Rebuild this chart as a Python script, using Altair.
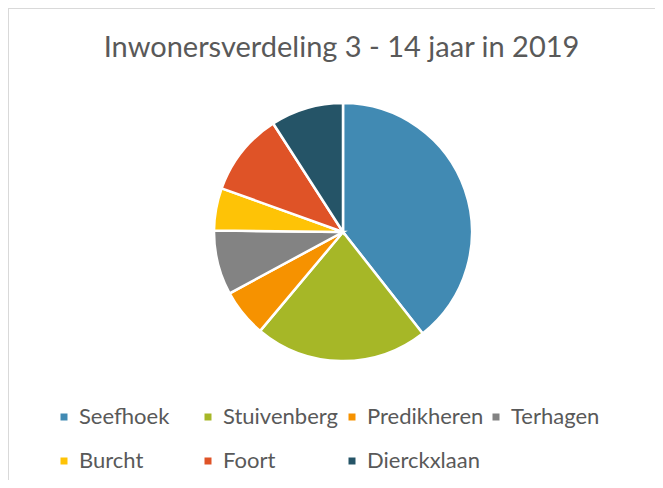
import altair as alt
import pandas as pd

regions = ["Seefhoek", "Stuivenberg", "Predikheren", "Terhagen", "Burcht", "Foort", "Dierckxlaan"]
shares = [39.4, 21.7, 6.0, 8.1, 5.3, 10.4, 9.1]
colors = ["#418AB3", "#A6B727", "#F69200", "#838383", "#FEC306", "#DF5327", "#255467"]

W, H = 647, 472

df = pd.DataFrame({"Wijk": regions, "Aandeel": shares, "Volgorde": list(range(len(regions)))})

pie = alt.Chart(df).mark_arc(
    outerRadius=129, stroke="white", strokeWidth=2.5
).encode(
    theta=alt.Theta("Aandeel:Q", stack=True),
    order=alt.Order("Volgorde:Q"),
    x=alt.value(335),
    y=alt.value(224),
    color=alt.Color(
        "Wijk:N",
        scale=alt.Scale(domain=regions, range=colors),
        sort=regions,
        legend=alt.Legend(
            title=None, orient="none", legendX=45, legendY=398,
            direction="horizontal", columns=4, gridAlign="all",
            symbolType="square", symbolSize=49, symbolStrokeWidth=0,
            labelFont="Lato", labelFontSize=22, labelColor="#595959",
            labelOffset=4, columnPadding=1, rowPadding=22,
        ),
    ),
)

frame = alt.Chart(pd.DataFrame({"k": [0]})).mark_rule(color="#D9D9D9", strokeWidth=1)
left_edge = frame.encode(x=alt.value(0.5), y=alt.value(0), y2=alt.value(H))
top_edge = frame.encode(y=alt.value(0.5), x=alt.value(0), x2=alt.value(W))

chart = alt.layer(pie, left_edge, top_edge).properties(
    width=W, height=H,
    autosize=alt.AutoSizeParams(type="none"),
    padding=0,
    title=alt.TitleParams(
        "Inwonersverdeling 3 - 14 jaar in 2019",
        font="Lato", fontSize=29, fontWeight="normal", color="#595959",
        anchor="middle", frame="group", orient="top", baseline="alphabetic",
        offset=0, dy=78, dx=10,
    ),
).configure_view(stroke=None)

chart.save("out.html", embed_options={"renderer": "svg", "actions": False})
